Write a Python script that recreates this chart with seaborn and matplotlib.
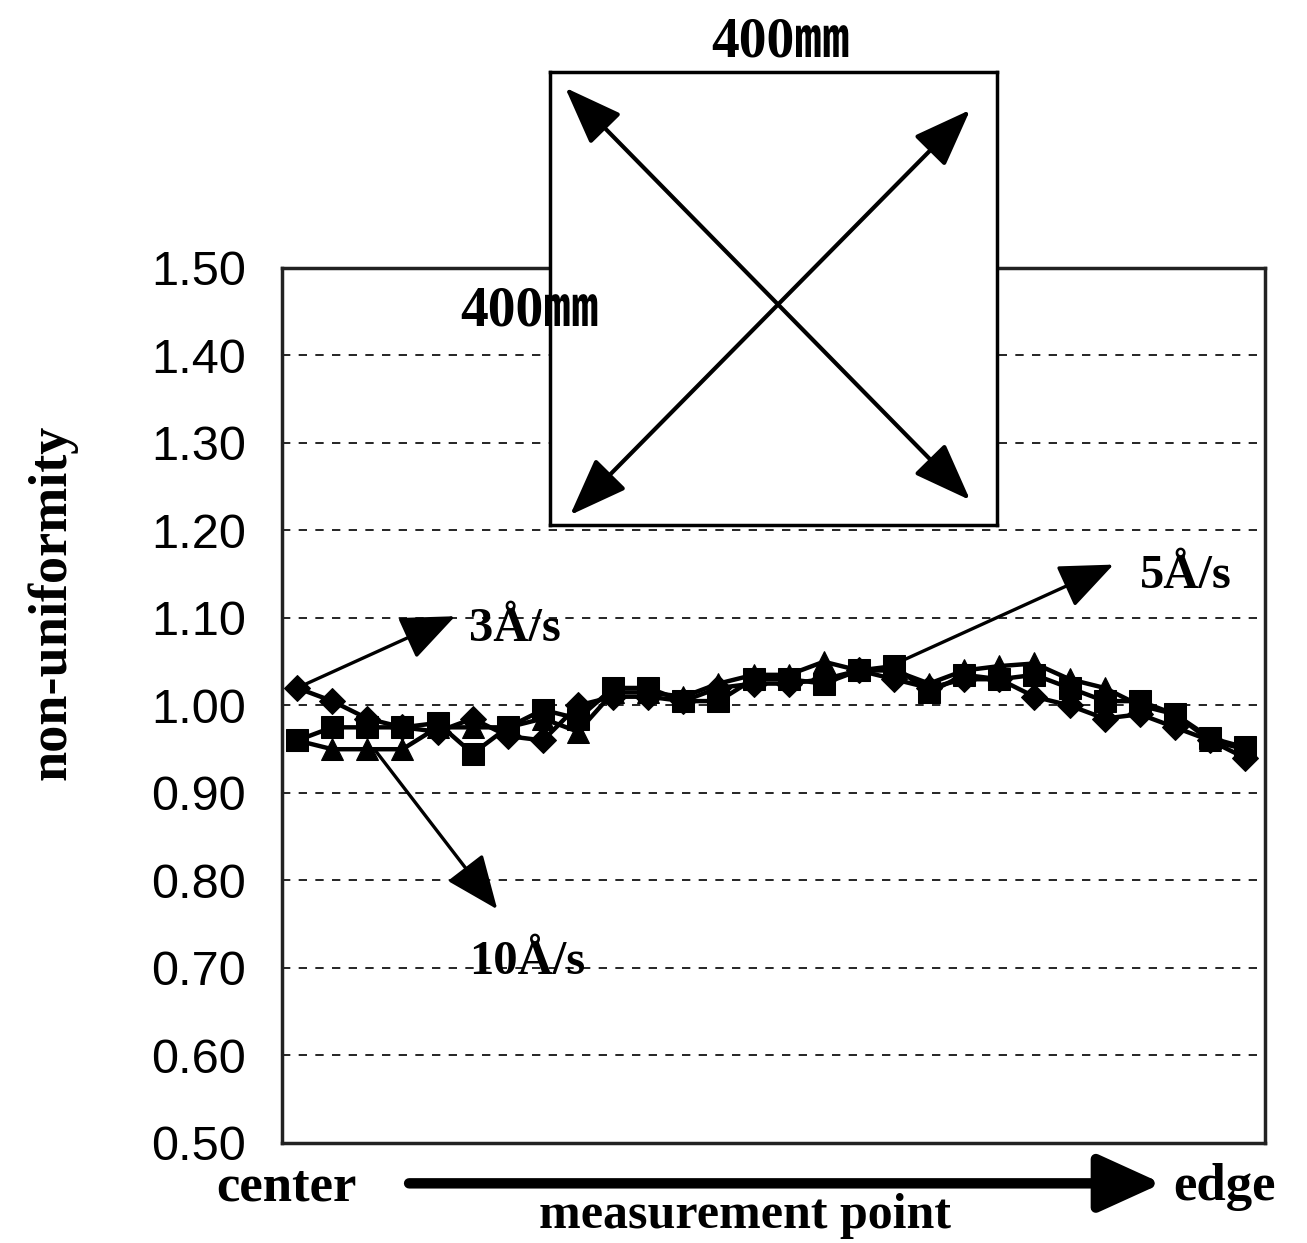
import numpy as np
import pandas as pd
import seaborn as sns
import matplotlib.pyplot as plt

# measurement points from center to edge
points = list(range(28))

rate_3 = [1.02, 1.005, 0.985, 0.975, 0.97, 0.985, 0.965, 0.96, 1.00, 1.01,
          1.01, 1.005, 1.02, 1.025, 1.025, 1.03, 1.04, 1.03, 1.02, 1.03,
          1.03, 1.01, 1.00, 0.985, 0.99, 0.975, 0.96, 0.94]
rate_5 = [0.96, 0.975, 0.975, 0.975, 0.98, 0.945, 0.975, 0.995, 0.985, 1.02,
          1.02, 1.005, 1.005, 1.03, 1.03, 1.025, 1.04, 1.045, 1.015, 1.035,
          1.03, 1.035, 1.02, 1.005, 1.005, 0.99, 0.963, 0.952]
rate_10 = [0.96, 0.95, 0.95, 0.95, 0.975, 0.975, 0.975, 0.985, 0.97, 1.015,
           1.015, 1.01, 1.025, 1.035, 1.035, 1.05, 1.04, 1.04, 1.025, 1.04,
           1.045, 1.048, 1.03, 1.02, 1.00, 0.99, 0.96, 0.95]

yticks = [0.50, 0.60, 0.70, 0.80, 0.90, 1.00, 1.10, 1.20, 1.30, 1.40, 1.50]

sns.set_style("white")
serif = ["Liberation Serif", "Noto Sans CJK JP", "DejaVu Sans"]
plt.rcParams["font.family"] = ["Liberation Sans", "DejaVu Sans"]
plt.rcParams["text.color"] = "black"
plt.rcParams["ytick.color"] = "black"

fig = plt.figure(figsize=(13.07, 12.43), dpi=100)
ax = fig.add_axes([0.2158, 0.0805, 0.7522, 0.7039])

df = pd.DataFrame({"x": points, "r3": rate_3, "r5": rate_5, "r10": rate_10})
sns.lineplot(data=df, x="x", y="r3", ax=ax, color="black", marker="D",
             markersize=13, linewidth=3.2, markeredgecolor="black", zorder=3)
sns.lineplot(data=df, x="x", y="r5", ax=ax, color="black", marker="s",
             markersize=16, linewidth=3.2, markeredgecolor="black", zorder=3)
sns.lineplot(data=df, x="x", y="r10", ax=ax, color="black", marker="^",
             markersize=16, linewidth=3.2, markeredgecolor="black", zorder=3)

ax.set_xlim(-0.43, 27.57)
ax.set_ylim(0.5, 1.5)
ax.set_xticks([])
ax.set_yticks(yticks)
ax.set_yticklabels(["%.2f" % v for v in yticks], fontsize=35)
ax.tick_params(axis="y", length=0, pad=26)
ax.set_xlabel("")
ax.set_ylabel("")
ax.yaxis.grid(True, color="black", linestyle=(0, (5, 5)), linewidth=1.2)
for s in ax.spines.values():
    s.set_color("#222222")
    s.set_linewidth(2.5)

# series labels
arr = dict(arrowstyle="-|>,head_length=1.2,head_width=0.5", color="black",
           lw=2.4, mutation_scale=28, shrinkA=0, shrinkB=0)
ax.annotate("", xy=(4.5, 1.102), xytext=(0, 1.02), arrowprops=arr)
ax.text(4.9, 1.087, "3Å/s", fontsize=35, fontweight="bold", family=serif,
        va="center", ha="left")
ax.annotate("", xy=(23.25, 1.161), xytext=(17.0, 1.047), arrowprops=arr)
ax.text(24.0, 1.148, "5Å/s", fontsize=35, fontweight="bold", family=serif,
        va="center", ha="left")
ax.annotate("", xy=(5.7, 0.767), xytext=(2.2, 0.95), arrowprops=arr)
ax.text(4.9, 0.707, "10Å/s", fontsize=35, fontweight="bold", family=serif,
        va="center", ha="left")

# axis labels
fig.text(0.040, 0.515, "non-uniformity", rotation=90, fontsize=39,
         fontweight="bold", family=serif, ha="center", va="center")
fig.text(0.219, 0.045, "center", fontsize=38, fontweight="bold", family=serif,
         ha="center", va="center")
fig.text(0.937, 0.045, "edge", fontsize=38, fontweight="bold", family=serif,
         ha="center", va="center")
fig.text(0.570, 0.003, "measurement point", fontsize=36, fontweight="bold",
         family=serif, ha="center", va="bottom")
fig.add_artist(plt.matplotlib.patches.FancyArrowPatch(
    (0.313, 0.048), (0.889, 0.048), transform=fig.transFigure,
    arrowstyle="-|>,head_length=1.1,head_width=0.5", mutation_scale=35,
    color="black", lw=7.5, shrinkA=0, shrinkB=0))

# substrate inset
ins = fig.add_axes([0.4208, 0.5776, 0.3420, 0.3646], zorder=5)
ins.set_facecolor("white")
ins.set_xlim(0, 1)
ins.set_ylim(0, 1)
ins.set_xticks([])
ins.set_yticks([])
for s in ins.spines.values():
    s.set_color("black")
    s.set_linewidth(2.5)
iarr = dict(arrowstyle="<|-|>,head_length=1.2,head_width=0.45", color="black",
            lw=3, mutation_scale=30, shrinkA=0, shrinkB=0)
ins.annotate("", xy=(0.034, 0.965), xytext=(0.94, 0.055), arrowprops=iarr)
ins.annotate("", xy=(0.045, 0.022), xytext=(0.94, 0.916), arrowprops=iarr)

fig.text(0.597, 0.966, "400㎜", fontsize=40, fontweight="bold", family=serif,
         ha="center", va="center", zorder=6)
fig.text(0.405, 0.749, "400㎜", fontsize=40, fontweight="bold", family=serif,
         ha="center", va="center", zorder=6)

fig.savefig("out.png", dpi=100)
